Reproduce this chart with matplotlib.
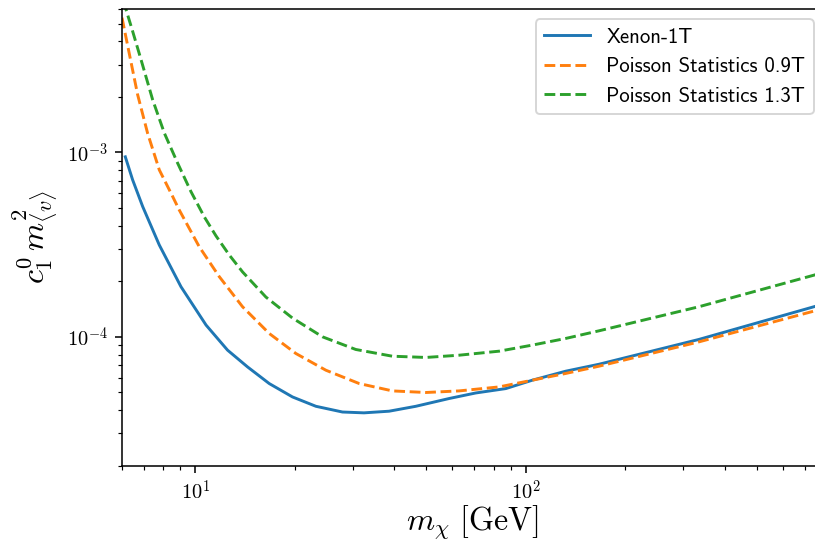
import numpy as np
import matplotlib.pyplot as plt
from matplotlib.ticker import FuncFormatter, NullFormatter

plt.rcParams['mathtext.fontset'] = 'cm'

# Xenon-1T exclusion limit
xenon_mass = [6.14, 6.46, 6.93, 7.78, 9.05, 10.78, 12.52, 14.39, 16.74, 19.69,
              23.18, 27.9, 32.4, 38.6, 46.5, 58.7, 70.6, 87.1, 104.8, 132.2,
              166.7, 334.5, 745.6, 800]
xenon_limit = [9.47e-4, 7.11e-4, 5.09e-4, 3.15e-4, 1.87e-4, 1.158e-4, 8.47e-5,
               6.87e-5, 5.58e-5, 4.72e-5, 4.20e-5, 3.91e-5, 3.87e-5, 3.95e-5,
               4.20e-5, 4.63e-5, 4.96e-5, 5.24e-5, 5.82e-5, 6.51e-5, 7.10e-5,
               9.68e-5, 1.456e-4, 1.51e-4]

# Poisson statistics, 0.9 tonne exposure
p09_mass = [6.0, 6.32, 6.69, 7.17, 7.78, 8.54, 8.94, 10.28, 11.82, 13.90, 16.74,
            20.16, 24.85, 31.34, 39.5, 49.9, 62.9, 83.1, 104.8, 132.2, 166.7,
            334.5, 745.6, 800]
p09_limit = [5.38e-3, 3.40e-3, 2.06e-3, 1.274e-3, 8.05e-4, 5.77e-4, 4.88e-4,
             3.08e-4, 2.12e-4, 1.456e-4, 1.043e-4, 8.12e-5, 6.59e-5, 5.58e-5,
             5.09e-5, 4.99e-5, 5.09e-5, 5.35e-5, 5.82e-5, 6.33e-5, 6.93e-5,
             9.39e-5, 1.379e-4, 1.43e-4]

# Poisson statistics, 1.3 tonne exposure
p13_mass = [6.0, 6.17, 6.46, 6.85, 7.43, 8.06, 8.84, 9.70, 10.65, 11.55, 12.67,
            13.90, 16.36, 19.69, 24.27, 30.6, 39.5, 49.9, 62.9, 83.1, 104.8,
            132.2, 166.7, 334.5, 745.6, 800]
p13_limit = [6.6e-3, 5.96e-3, 4.55e-3, 3.19e-3, 1.93e-3, 1.274e-3, 8.76e-4,
             6.14e-4, 4.47e-4, 3.53e-4, 2.78e-4, 2.25e-4, 1.643e-4, 1.264e-4,
             1.0e-4, 8.54e-5, 7.85e-5, 7.73e-5, 7.95e-5, 8.36e-5, 9.02e-5,
             9.80e-5, 1.078e-4, 1.456e-4, 2.16e-4, 2.24e-4]

fig = plt.figure(figsize=(815 / 140, 541 / 140), dpi=140)
ax = fig.add_axes([122 / 815, 1 - 465.7 / 541, 702 / 815, 456.7 / 541])

ax.plot(xenon_mass, xenon_limit, color='C0', lw=1.5, label='Xenon-1T')
ax.plot(p09_mass, p09_limit, '--', color='C1', lw=1.5, label='Poisson Statistics 0.9T')
ax.plot(p13_mass, p13_limit, '--', color='C2', lw=1.5, label='Poisson Statistics 1.3T')

ax.set_xscale('log')
ax.set_yscale('log')
ax.set_xlim(6, 800)
ax.set_ylim(2e-5, 6e-3)

power_fmt = FuncFormatter(lambda v, pos: r'$10^{%d}$' % round(np.log10(v)))
for axis in (ax.xaxis, ax.yaxis):
    axis.set_major_formatter(power_fmt)
    axis.set_minor_formatter(NullFormatter())
ax.tick_params(labelsize=10.5)

ax.set_xlabel(r'$m_\chi\ [\mathrm{GeV}]$', fontsize=16.5, labelpad=0)
ax.set_ylabel(r'$c_1^0\, m^2_{\langle v\rangle}$', fontsize=16.5)
ax.legend(loc='upper right', handlelength=2.2,
          prop={'family': 'cmss10', 'size': 10.7})

fig.savefig('out.png', dpi=140)
